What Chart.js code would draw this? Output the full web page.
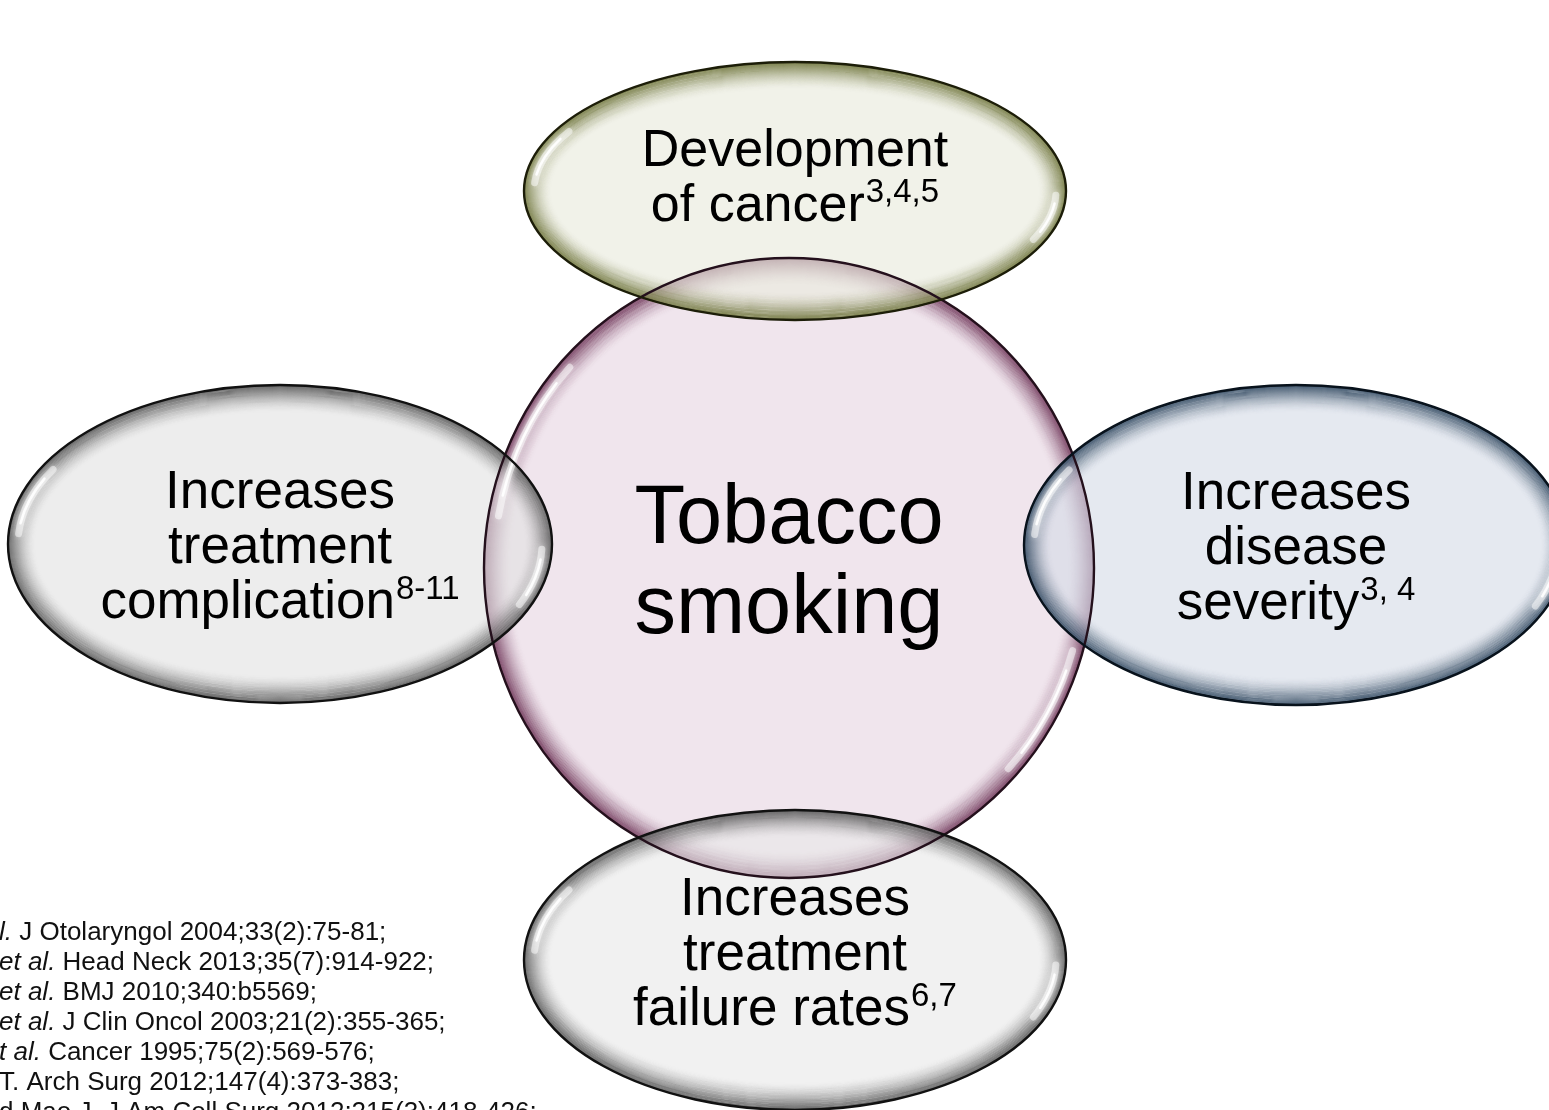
<!DOCTYPE html>
<html>
<head>
<meta charset="utf-8">
<script src="https://cdn.jsdelivr.net/npm/chart.js@4.4.1/dist/chart.umd.min.js"></script>
<style>
  body { margin: 0; background: #fff; }
  #wrap { width: 1549px; height: 1110px; position: relative; }
</style>
</head>
<body>
<div id="wrap"><canvas id="chart"></canvas></div>
<script>
// Diagram content (data units: x 0..154.9, y 0..111, y pointing up)
const categories = ["Tobacco smoking", "Development of cancer", "Increases treatment complication",
  "Increases disease severity", "Increases treatment failure rates"]
const labelLines = [
  ["Tobacco", "smoking"],
  ["Development", "of cancer"],
  ["Increases", "treatment", "complication"],
  ["Increases", "disease", "severity"],
  ["Increases", "treatment", "failure rates"],
]
const citations = ["", "3,4,5", "8-11", "3, 4", "6,7"]
const centerX = [78.9, 79.5, 28.0, 129.6, 79.5]
const centerY = [54.2, 91.9, 56.6, 56.5, 15.0]
const radiusX = [30.5, 27.1, 27.2, 27.2, 27.1]
const radiusY = [31.0, 12.9, 15.9, 16.0, 15.0]

// Reference list (left part is cut off in the original)
const refItalic = ["l.", "et al.", "et al.", "et al.", "t al.", "", ""]
const refText = [
  " J Otolaryngol 2004;33(2):75-81;",
  " Head Neck 2013;35(7):914-922;",
  " BMJ 2010;340:b5569;",
  " J Clin Oncol 2003;21(2):355-365;",
  " Cancer 1995;75(2):569-576;",
  "T. Arch Surg 2012;147(4):373-383;",
  "d Mao J. J Am Coll Surg 2012;215(3):418-426;",
]

// Look of each bubble
const styles = [
  { fill: "rgba(232,215,228,0.66)", rim: [94, 31, 69], line: "#24101c" },
  { fill: "rgba(234,235,222,0.66)", rim: [95, 101, 38], line: "#1c1d08" },
  { fill: "rgba(226,226,226,0.62)", rim: [70, 70, 70], line: "#111" },
  { fill: "rgba(214,221,231,0.64)", rim: [28, 54, 80], line: "#08121c" },
  { fill: "rgba(232,232,232,0.62)", rim: [70, 70, 70], line: "#111" },
]
const textLayout = [
  { size: 83, gap: 90, dy: 20 },
  { size: 52, gap: 55, dy: 2 },
  { size: 53, gap: 55, dy: 19 },
  { size: 53, gap: 55, dy: 19 },
  { size: 53, gap: 55, dy: 10 },
]
const FONT = '"Liberation Sans", Arial, Helvetica, sans-serif'
const RIM = 28

const ellipsePath = (ctx, s) => {
  ctx.beginPath()
  ctx.ellipse(s.x, s.y, s.rx, s.ry, 0, 0, Math.PI * 2)
}

const drawBody = (ctx, s, st) => {
  ctx.save()
  ellipsePath(ctx, s)
  ctx.fillStyle = st.fill
  ctx.fill()
  ellipsePath(ctx, s)
  ctx.clip()
  // shaded rim: concentric rings, darkest at the edge
  const [r, g, b] = st.rim
  for (let d = RIM; d >= 0; d -= 1) {
    const t = 1 - d / RIM
    ctx.beginPath()
    ctx.ellipse(s.x, s.y, Math.max(1, s.rx - d), Math.max(1, s.ry - d), 0, 0, Math.PI * 2)
    ctx.strokeStyle = `rgba(${r},${g},${b},${(0.7 * Math.pow(t, 1.8)).toFixed(3)})`
    ctx.lineWidth = 1.4
    ctx.stroke()
  }
  ctx.restore()
}

const drawShine = (ctx, s, a0, a1) => {
  const d2r = Math.PI / 180
  ctx.save()
  ctx.lineCap = "round"
  ctx.shadowColor = "rgba(255,255,255,0.9)"
  ctx.shadowBlur = 6
  ctx.strokeStyle = "rgba(255,255,255,0.5)"
  ctx.lineWidth = 7
  ctx.beginPath()
  ctx.ellipse(s.x, s.y, s.rx - 10, s.ry - 10, 0, a0 * d2r, a1 * d2r)
  ctx.stroke()
  ctx.strokeStyle = "rgba(255,255,255,0.92)"
  ctx.lineWidth = 2.5
  ctx.beginPath()
  ctx.ellipse(s.x, s.y, s.rx - 10, s.ry - 10, 0, (a0 + 4) * d2r, (a1 - 4) * d2r)
  ctx.stroke()
  ctx.restore()
}

const drawLabel = (ctx, s, i) => {
  const { size, gap, dy } = textLayout[i]
  const lines = labelLines[i]
  const sup = citations[i]
  const supSize = Math.round(size * 0.63)
  const main = `${size}px ${FONT}`
  const small = `${supSize}px ${FONT}`
  ctx.save()
  ctx.fillStyle = "#000"
  ctx.textAlign = "left"
  ctx.textBaseline = "alphabetic"
  lines.forEach((line, k) => {
    const by = s.y + dy + (k - (lines.length - 1) / 2) * gap
    ctx.font = main
    const w = ctx.measureText(line).width
    let sw = 0
    const withSup = sup && k === lines.length - 1
    if (withSup) {
      ctx.font = small
      sw = ctx.measureText(sup).width + 1
    }
    const x0 = s.x - (w + sw) / 2
    ctx.font = main
    ctx.fillText(line, x0, by)
    if (withSup) {
      ctx.font = small
      ctx.fillText(sup, x0 + w + 1, by - size * 0.36)
    }
  })
  ctx.restore()
}

const drawReferences = (ctx) => {
  ctx.save()
  ctx.fillStyle = "#111"
  ctx.textBaseline = "alphabetic"
  refText.forEach((txt, i) => {
    const by = 940 + i * 30
    let xx = -1
    if (refItalic[i]) {
      ctx.font = `italic 26px ${FONT}`
      ctx.fillText(refItalic[i], xx, by)
      xx += ctx.measureText(refItalic[i]).width
    }
    ctx.font = `26px ${FONT}`
    ctx.fillText(txt, xx, by)
  })
  ctx.restore()
}

const bubblePlugin = {
  id: "bubbles",
  afterDatasetsDraw(chart) {
    const { ctx, scales } = chart
    const meta = chart.getDatasetMeta(0)
    const shapes = meta.data.map((pt, i) => ({
      x: pt.x,
      y: pt.y,
      rx: Math.abs(scales.x.getPixelForValue(centerX[i] + radiusX[i]) - pt.x),
      ry: Math.abs(scales.y.getPixelForValue(centerY[i] + radiusY[i]) - pt.y),
    }))
    drawReferences(ctx)
    shapes.forEach((s, i) => drawBody(ctx, s, styles[i]))
    shapes.forEach((s, i) => {
      if (i === 0) {
        drawShine(ctx, s, 190, 222)
        drawShine(ctx, s, 16, 42)
      } else {
        drawShine(ctx, s, 184, 210)
        drawShine(ctx, s, 2, 24)
      }
    })
    shapes.forEach((s, i) => {
      ctx.save()
      ellipsePath(ctx, s)
      ctx.lineWidth = 2.4
      ctx.strokeStyle = styles[i].line
      ctx.stroke()
      ctx.restore()
    })
    shapes.forEach((s, i) => drawLabel(ctx, s, i))
  },
}

new Chart(document.getElementById("chart"), {
  type: "scatter",
  data: {
    labels: categories,
    datasets: [
      {
        label: "Effects of tobacco smoking",
        data: centerX.map((x, i) => ({ x, y: centerY[i] })),
        pointRadius: 0,
        pointHoverRadius: 0,
      },
    ],
  },
  options: {
    responsive: true,
    maintainAspectRatio: false,
    animation: false,
    events: [],
    layout: { padding: 0 },
    plugins: { legend: { display: false }, tooltip: { enabled: false } },
    scales: {
      x: { type: "linear", min: 0, max: 154.9, display: false },
      y: { type: "linear", min: 0, max: 111, display: false },
    },
  },
  plugins: [bubblePlugin],
})
</script>
</body>
</html>
